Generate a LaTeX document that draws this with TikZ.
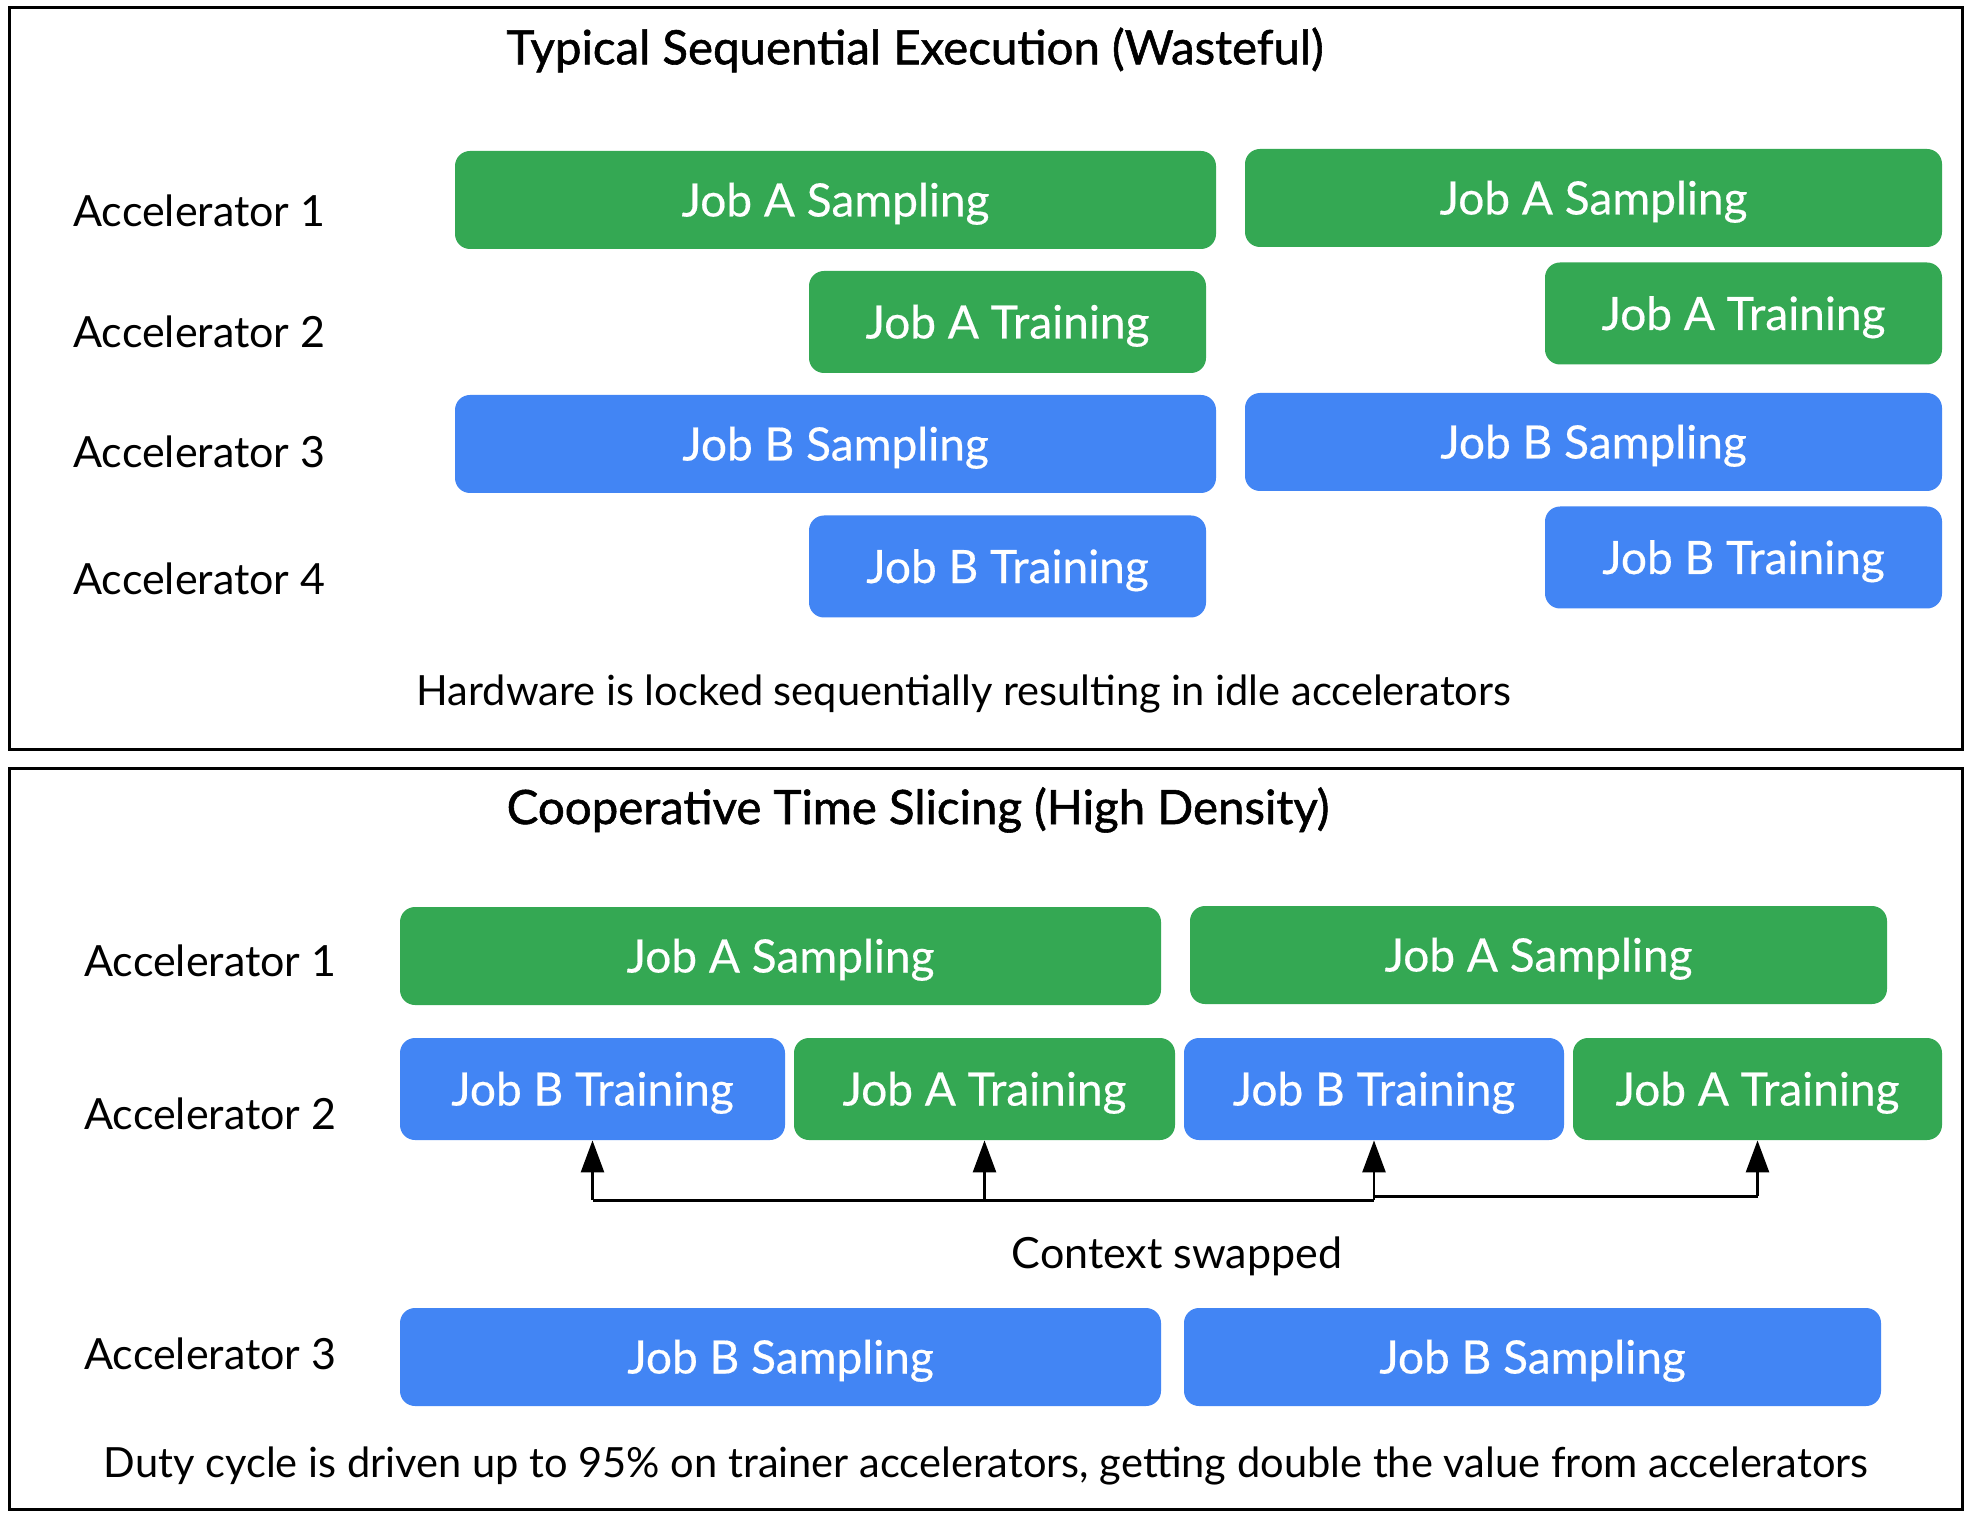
\documentclass[tikz,border=0pt]{standalone}
\usepackage{fontspec}
\setmainfont{Lato}
\newfontfamily\titlefont[FakeBold=1.2]{Lato}
\newfontfamily\boxfont[FakeBold=0.4]{Lato}
\usetikzlibrary{arrows.meta}
\definecolor{jobgreen}{HTML}{34A853}
\definecolor{jobblue}{HTML}{4285F4}
\begin{document}
\begin{tikzpicture}[x=0.5pt,y=-0.5pt,
  every node/.style={font=\fontsize{21.5}{26}\selectfont, inner sep=0pt},
  panel/.style={draw=black, line width=1.5pt},
  title/.style={font=\fontsize{23.7}{28}\titlefont},
  note/.style={font=\fontsize{20.8}{25}\selectfont},
  accel/.style={anchor=west},
  job/.style={rounded corners=7.5pt, text=white, minimum height=49pt,
    font=\fontsize{23}{27}\boxfont, text height=16.5pt, text depth=0pt},
  jobA/.style={job, fill=jobgreen},
  jobB/.style={job, fill=jobblue},
  bus/.style={line width=1.5pt},
  tip/.style={line width=1.3pt, -{Triangle[length=16pt,width=11.5pt]}}]
\useasboundingbox (0,0) rectangle (1970,1518);
\fill[white] (0,0) rectangle (1970,1518);

% ---------- upper panel: sequential execution ----------
\draw[panel] (9,8) rectangle (1962,749);
\node[title] (t1) at (915,50) {Typical Sequential Execution (Wasteful)};

\node[accel] (a1) at (73,211) {Accelerator 1};
\node[accel] (a2) at (73,332) {Accelerator 2};
\node[accel] (a3) at (73,452) {Accelerator 3};
\node[accel] (a4) at (73,579) {Accelerator 4};

\node[jobA, minimum width=380.5pt] (s1l) at (835.5,200) {Job A Sampling};
\node[jobA, minimum width=348.5pt] (s1r) at (1593.5,198) {Job A Sampling};
\node[jobA, minimum width=198.5pt, minimum height=51pt] (s2l) at (1007.5,322) {Job A Training};
\node[jobA, minimum width=198.5pt, minimum height=51pt] (s2r) at (1743.5,313.5) {Job A Training};
\node[jobB, minimum width=380.5pt] (s3l) at (835.5,444) {Job B Sampling};
\node[jobB, minimum width=348.5pt] (s3r) at (1593.5,442) {Job B Sampling};
\node[jobB, minimum width=198.5pt, minimum height=51pt] (s4l) at (1007.5,566.5) {Job B Training};
\node[jobB, minimum width=198.5pt, minimum height=51pt] (s4r) at (1743.5,557.5) {Job B Training};

\node[note] (n1) at (964,694) {Hardware is locked sequentially resulting in idle accelerators};

% ---------- lower panel: cooperative time slicing ----------
\draw[panel] (9,768) rectangle (1962,1509);
\node[title] (t2) at (918,810) {Cooperative Time Slicing (High Density)};

\node[accel] (b1) at (84,961) {Accelerator 1};
\node[accel] (b2) at (84,1114) {Accelerator 2};
\node[accel] (b3) at (84,1354) {Accelerator 3};

\node[jobA, minimum width=380.5pt] (c1l) at (780.5,956) {Job A Sampling};
\node[jobA, minimum width=348.5pt] (c1r) at (1538.5,955) {Job A Sampling};

\node[jobB, minimum width=192.5pt, minimum height=51pt] (bt1) at (592.5,1089) {Job B Training};
\node[jobA, minimum width=190.5pt, minimum height=51pt] (bt2) at (984.5,1089) {Job A Training};
\node[jobB, minimum width=190pt, minimum height=51pt] (bt3) at (1374,1089) {Job B Training};
\node[jobA, minimum width=184.5pt, minimum height=51pt] (bt4) at (1757.5,1089) {Job A Training};

\node[jobB, minimum width=380.5pt] (c3l) at (780.5,1357) {Job B Sampling};
\node[jobB, minimum width=348.5pt] (c3r) at (1532.5,1357) {Job B Sampling};

% context-swap bus and its arrows
\coordinate (h1) at (bt1.south |- 0,1200);
\coordinate (h2) at (bt2.south |- 0,1200);
\coordinate (h3) at (bt3.south |- 0,1200);
\coordinate (h3b) at (bt3.south |- 0,1196);
\coordinate (h4) at (bt4.south |- 0,1196);
\draw[bus] (h1) -- (h3);
\draw[bus] (h3b) -- (h4);
\draw[tip] (h1) -- (bt1.south);
\draw[tip] (h2) -- (bt2.south);
\draw[tip] (h3) -- (bt3.south);
\draw[tip] (h4) -- (bt4.south);

\node (cs) at (1177,1256) {Context swapped};
\node[note] (n2) at (986,1466) {Duty cycle is driven up to 95\% on trainer accelerators, getting double the value from accelerators};
\end{tikzpicture}
\end{document}
